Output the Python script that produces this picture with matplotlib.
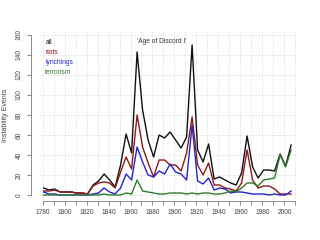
import matplotlib
matplotlib.use("Agg")
import matplotlib.pyplot as plt

plt.rcParams['font.family'] = ['Liberation Sans', 'DejaVu Sans']

# 5-year bins, plotted at bin position
years = [1781, 1786, 1791, 1796, 1801, 1806, 1811, 1816, 1821, 1826,
         1831, 1836, 1841, 1846, 1851, 1856, 1861, 1866, 1871, 1876,
         1881, 1886, 1891, 1896, 1901, 1906, 1911, 1916, 1921, 1926,
         1931, 1936, 1941, 1946, 1951, 1956, 1961, 1966, 1971, 1976,
         1981, 1986, 1991, 1996, 2001, 2006]

all_events = [7, 5, 6, 3, 3, 3, 2, 2, 1, 10,
              14, 21, 15, 8, 30, 61, 42, 143, 85, 55,
              38, 60, 57, 63, 55, 47, 58, 150, 45, 33,
              51, 16, 18, 15, 12, 10, 22, 59, 28, 17,
              25, 25, 24, 41, 29, 50]
riots = [4, 4, 5, 3, 3, 3, 2, 2, 1, 9,
         12, 13, 12, 7, 23, 38, 26, 80, 48, 32,
         18, 35, 35, 30, 30, 24, 42, 78, 30, 20,
         32, 10, 10, 7, 6, 4, 12, 45, 15, 7,
         9, 9, 6, 1, 1, 1]
lynchings = [3, 1, 1, 0, 0, 0, 0, 0, 0, 1,
             2, 7, 3, 1, 7, 21, 15, 48, 33, 20,
             18, 24, 21, 31, 23, 21, 15, 70, 14, 11,
             17, 5, 7, 6, 2, 3, 3, 2, 1, 1,
             1, 0, 1, 0, 0, 4]
terrorism = [0, 0, 0, 0, 0, 0, 0, 0, 0, 0,
             0, 1, 0, 0, 0, 2, 1, 15, 4, 3,
             2, 1, 1, 2, 2, 2, 1, 2, 1, 2,
             2, 1, 1, 2, 4, 3, 7, 12, 12, 9,
             15, 16, 17, 40, 28, 45]

series = [
    ("all", all_events, "#111111"),
    ("riots", riots, "#8b1a1a"),
    ("lynchings", lynchings, "#2525c8"),
    ("terrorism", terrorism, "#2e7d2e"),
]

fig = plt.figure(figsize=(3.2, 2.4), dpi=100)
ax = fig.add_axes([37 / 320, 40 / 240, 260.7 / 320, 170 / 240])
ax.set_xlim(1775, 2012)
ax.set_ylim(-5, 165)

# light dotted grid
for x in range(1780, 2011, 10):
    ax.axvline(x, color="#d8d8d8", linestyle=":", linewidth=0.7, zorder=0)
for y in range(0, 161, 20):
    ax.axhline(y, color="#d8d8d8", linestyle=":", linewidth=0.7, zorder=0)

for name, vals, col in series:
    ax.plot(years, vals, color=col, linewidth=1.0)

# legend as coloured text
for k, (name, vals, col) in enumerate(series):
    ax.text(0.032, 0.925 - k * 0.058, name, color=col, fontsize=4.8,
            transform=ax.transAxes, va="center", ha="left")

ax.text(1866, 150, "'Age of Discord I'", fontsize=4.8, color="#333333",
        va="bottom", ha="left")

for s in ["top", "right"]:
    ax.spines[s].set_visible(False)
ax.spines["left"].set_position(("outward", 4.3))
ax.spines["bottom"].set_position(("outward", 0.8))
ax.spines["left"].set_bounds(0, 160)
ax.spines["bottom"].set_bounds(1780, 2010)
for s in ["left", "bottom"]:
    ax.spines[s].set_color("#777777")
    ax.spines[s].set_linewidth(0.6)

ax.set_xticks(range(1780, 2011, 20))
ax.set_xticks(range(1780, 2011, 10), minor=True)
ax.set_yticks(range(0, 161, 20))
ax.tick_params(axis="both", labelsize=4.8, colors="#777777", labelcolor="#444444",
               width=0.6, length=3, pad=3)
ax.tick_params(axis="x", which="minor", width=0.6, length=3, colors="#777777")
for lab in ax.get_yticklabels():
    lab.set_rotation(90)
    lab.set_va("center")
ax.set_ylabel("Instability Events", fontsize=5, color="#444444", labelpad=5)

fig.savefig("out.png", dpi=100)
